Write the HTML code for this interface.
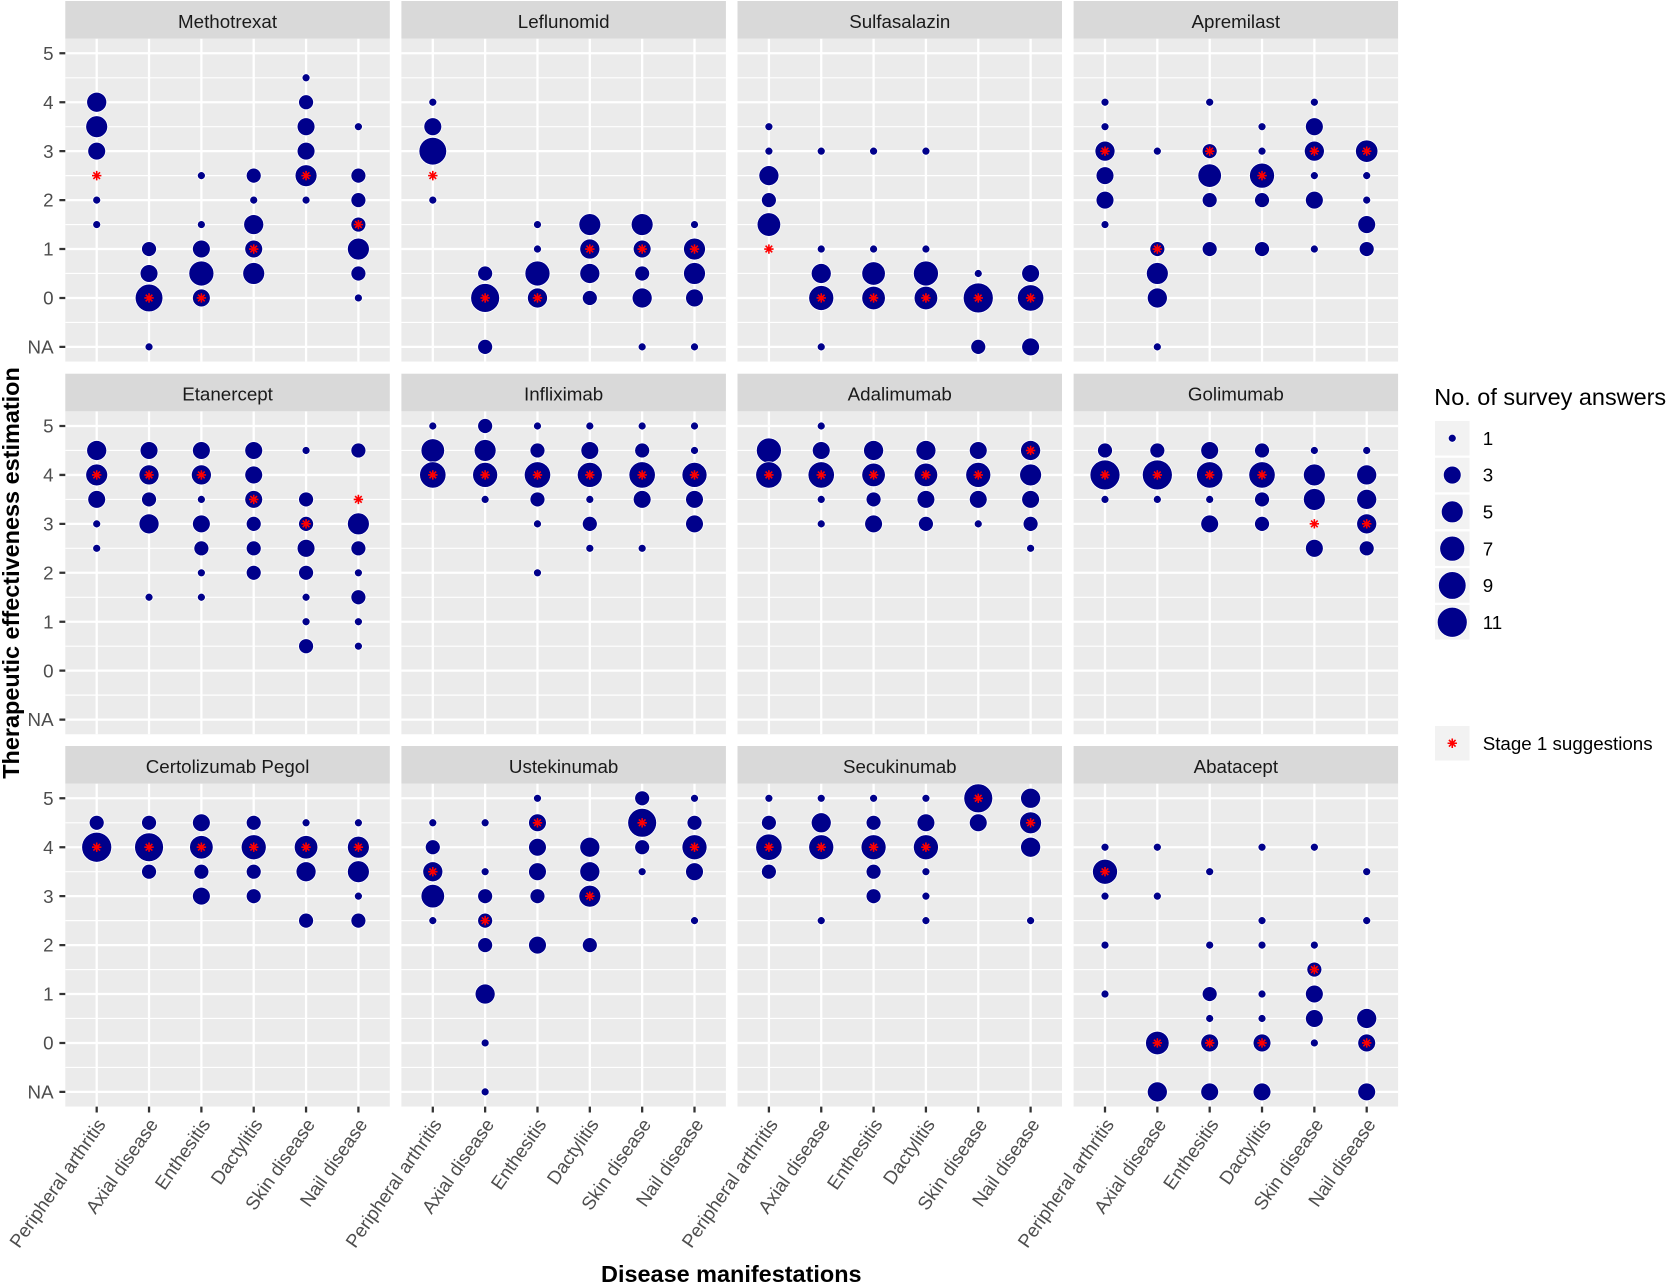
<!DOCTYPE html>
<html><head><meta charset="utf-8">
<style>
html,body{margin:0;padding:0;background:#fff;}
svg{display:block;}
text{font-family:"Liberation Sans",Arial,sans-serif;}
.st{font-size:18.76px;fill:#1A1A1A;text-anchor:middle;}
.yt{font-size:18.76px;fill:#4D4D4D;text-anchor:end;}
.xt{font-size:18.76px;fill:#4D4D4D;text-anchor:end;}
.lt{font-size:18.76px;fill:#000;}
</style></head><body>
<svg width="1667" height="1284" viewBox="0 0 1667 1284" xmlns="http://www.w3.org/2000/svg">
<defs>
<g id="pg">
<rect x="0" y="-14.7" width="324.5" height="322.98" fill="#EBEBEB"/>
<path d="M0 24.47H324.5M0 73.4H324.5M0 122.33H324.5M0 171.26H324.5M0 220.19H324.5M0 269.12H324.5" stroke="#fff" stroke-width="1.14" fill="none"/>
<path d="M0 0H324.5M0 48.93H324.5M0 97.86H324.5M0 146.79H324.5M0 195.72H324.5M0 244.65H324.5M0 293.58H324.5M31.4 -14.7V308.28M83.74 -14.7V308.28M136.08 -14.7V308.28M188.42 -14.7V308.28M240.76 -14.7V308.28M293.1 -14.7V308.28" stroke="#fff" stroke-width="2.27" fill="none"/>
</g>
<path id="s" d="M-4.7 0H4.7M0 -4.7V4.7M-3.32 -3.32L3.32 3.32M-3.32 3.32L3.32 -3.32" stroke="#FF0000" stroke-width="1.6" fill="none"/>
</defs>

<!-- panels -->
<use href="#pg" x="65.3" y="53.3"/><use href="#pg" x="401.4" y="53.3"/><use href="#pg" x="737.5" y="53.3"/><use href="#pg" x="1073.6" y="53.3"/>
<use href="#pg" x="65.3" y="426"/><use href="#pg" x="401.4" y="426"/><use href="#pg" x="737.5" y="426"/><use href="#pg" x="1073.6" y="426"/>
<use href="#pg" x="65.3" y="798.3"/><use href="#pg" x="401.4" y="798.3"/><use href="#pg" x="737.5" y="798.3"/><use href="#pg" x="1073.6" y="798.3"/>

<!-- strips -->
<g fill="#D9D9D9">
<rect x="65.3" y="1" width="324.5" height="37.6"/><rect x="401.4" y="1" width="324.5" height="37.6"/><rect x="737.5" y="1" width="324.5" height="37.6"/><rect x="1073.6" y="1" width="324.5" height="37.6"/>
<rect x="65.3" y="373.7" width="324.5" height="37.6"/><rect x="401.4" y="373.7" width="324.5" height="37.6"/><rect x="737.5" y="373.7" width="324.5" height="37.6"/><rect x="1073.6" y="373.7" width="324.5" height="37.6"/>
<rect x="65.3" y="746" width="324.5" height="37.6"/><rect x="401.4" y="746" width="324.5" height="37.6"/><rect x="737.5" y="746" width="324.5" height="37.6"/><rect x="1073.6" y="746" width="324.5" height="37.6"/>
</g>
<text class="st" x="227.55" y="27.8">Methotrexat</text>
<text class="st" x="563.65" y="27.8">Leflunomid</text>
<text class="st" x="899.75" y="27.8">Sulfasalazin</text>
<text class="st" x="1235.85" y="27.8">Apremilast</text>
<text class="st" x="227.55" y="400.5">Etanercept</text>
<text class="st" x="563.65" y="400.5">Infliximab</text>
<text class="st" x="899.75" y="400.5">Adalimumab</text>
<text class="st" x="1235.85" y="400.5">Golimumab</text>
<text class="st" x="227.55" y="772.8">Certolizumab Pegol</text>
<text class="st" x="563.65" y="772.8">Ustekinumab</text>
<text class="st" x="899.75" y="772.8">Secukinumab</text>
<text class="st" x="1235.85" y="772.8">Abatacept</text>

<!-- axis ticks -->
<g stroke="#333333" stroke-width="2.27">
<path d="M59.4 53.3H65.3M59.4 102.23H65.3M59.4 151.16H65.3M59.4 200.09H65.3M59.4 249.02H65.3M59.4 297.95H65.3M59.4 346.88H65.3"/>
<path d="M59.4 426H65.3M59.4 474.93H65.3M59.4 523.86H65.3M59.4 572.79H65.3M59.4 621.72H65.3M59.4 670.65H65.3M59.4 719.58H65.3"/>
<path d="M59.4 798.3H65.3M59.4 847.23H65.3M59.4 896.16H65.3M59.4 945.09H65.3M59.4 994.02H65.3M59.4 1042.95H65.3M59.4 1091.88H65.3"/>
<path d="M96.7 1106.6V1112.5M149.04 1106.6V1112.5M201.38 1106.6V1112.5M253.72 1106.6V1112.5M306.06 1106.6V1112.5M358.4 1106.6V1112.5M432.8 1106.6V1112.5M485.14 1106.6V1112.5M537.48 1106.6V1112.5M589.82 1106.6V1112.5M642.16 1106.6V1112.5M694.5 1106.6V1112.5M768.9 1106.6V1112.5M821.24 1106.6V1112.5M873.58 1106.6V1112.5M925.92 1106.6V1112.5M978.26 1106.6V1112.5M1030.6 1106.6V1112.5M1105 1106.6V1112.5M1157.34 1106.6V1112.5M1209.68 1106.6V1112.5M1262.02 1106.6V1112.5M1314.36 1106.6V1112.5M1366.7 1106.6V1112.5"/>
</g>
<g class="yt">
<text class="yt" x="53.6" y="59.9">5</text><text class="yt" x="53.6" y="108.83">4</text><text class="yt" x="53.6" y="157.76">3</text><text class="yt" x="53.6" y="206.69">2</text><text class="yt" x="53.6" y="255.62">1</text><text class="yt" x="53.6" y="304.55">0</text><text class="yt" x="53.6" y="353.48">NA</text>
<text class="yt" x="53.6" y="432.6">5</text><text class="yt" x="53.6" y="481.53">4</text><text class="yt" x="53.6" y="530.46">3</text><text class="yt" x="53.6" y="579.39">2</text><text class="yt" x="53.6" y="628.32">1</text><text class="yt" x="53.6" y="677.25">0</text><text class="yt" x="53.6" y="726.18">NA</text>
<text class="yt" x="53.6" y="804.9">5</text><text class="yt" x="53.6" y="853.83">4</text><text class="yt" x="53.6" y="902.76">3</text><text class="yt" x="53.6" y="951.69">2</text><text class="yt" x="53.6" y="1000.62">1</text><text class="yt" x="53.6" y="1049.55">0</text><text class="yt" x="53.6" y="1098.48">NA</text>
</g>

<!-- x tick labels -->
<text class="xt" transform="translate(106.4,1124.5) rotate(-55)">Peripheral arthritis</text>
<text class="xt" transform="translate(158.74,1124.5) rotate(-55)">Axial disease</text>
<text class="xt" transform="translate(211.08,1124.5) rotate(-55)">Enthesitis</text>
<text class="xt" transform="translate(263.42,1124.5) rotate(-55)">Dactylitis</text>
<text class="xt" transform="translate(315.76,1124.5) rotate(-55)">Skin disease</text>
<text class="xt" transform="translate(368.1,1124.5) rotate(-55)">Nail disease</text>
<text class="xt" transform="translate(442.5,1124.5) rotate(-55)">Peripheral arthritis</text>
<text class="xt" transform="translate(494.84,1124.5) rotate(-55)">Axial disease</text>
<text class="xt" transform="translate(547.18,1124.5) rotate(-55)">Enthesitis</text>
<text class="xt" transform="translate(599.52,1124.5) rotate(-55)">Dactylitis</text>
<text class="xt" transform="translate(651.86,1124.5) rotate(-55)">Skin disease</text>
<text class="xt" transform="translate(704.2,1124.5) rotate(-55)">Nail disease</text>
<text class="xt" transform="translate(778.6,1124.5) rotate(-55)">Peripheral arthritis</text>
<text class="xt" transform="translate(830.94,1124.5) rotate(-55)">Axial disease</text>
<text class="xt" transform="translate(883.28,1124.5) rotate(-55)">Enthesitis</text>
<text class="xt" transform="translate(935.62,1124.5) rotate(-55)">Dactylitis</text>
<text class="xt" transform="translate(987.96,1124.5) rotate(-55)">Skin disease</text>
<text class="xt" transform="translate(1040.3,1124.5) rotate(-55)">Nail disease</text>
<text class="xt" transform="translate(1114.7,1124.5) rotate(-55)">Peripheral arthritis</text>
<text class="xt" transform="translate(1167.04,1124.5) rotate(-55)">Axial disease</text>
<text class="xt" transform="translate(1219.38,1124.5) rotate(-55)">Enthesitis</text>
<text class="xt" transform="translate(1271.72,1124.5) rotate(-55)">Dactylitis</text>
<text class="xt" transform="translate(1324.06,1124.5) rotate(-55)">Skin disease</text>
<text class="xt" transform="translate(1376.4,1124.5) rotate(-55)">Nail disease</text>

<!-- axis titles -->
<text x="731.3" y="1282" text-anchor="middle" font-weight="bold" font-size="23.45" fill="#000">Disease manifestations</text>
<text transform="translate(19,573) rotate(-90)" text-anchor="middle" font-weight="bold" font-size="23.45" fill="#000">Therapeutic effectiveness estimation</text>

<!-- data points -->
<g fill="#00008B" stroke="#fff" stroke-width="0.8">
<!-- Methotrexat -->
<g transform="translate(96.7,53.3)"><circle cy="48.93" r="10.02"/><circle cy="73.4" r="10.96"/><circle cy="97.86" r="8.92"/><circle cy="146.79" r="4"/><circle cy="171.26" r="4"/><use href="#s" y="122.33"/></g>
<g transform="translate(149.04,53.3)"><circle cy="195.72" r="7.48"/><circle cy="220.19" r="8.92"/><circle cy="244.65" r="13.84"/><circle cy="293.58" r="4"/><use href="#s" y="244.65"/></g>
<g transform="translate(201.38,53.3)"><circle cy="122.33" r="4"/><circle cy="171.26" r="4"/><circle cy="195.72" r="8.92"/><circle cy="220.19" r="12.52"/><circle cy="244.65" r="8.92"/><use href="#s" y="244.65"/></g>
<g transform="translate(253.72,53.3)"><circle cy="122.33" r="7.48"/><circle cy="146.79" r="4"/><circle cy="171.26" r="10.02"/><circle cy="195.72" r="8.92"/><circle cy="220.19" r="10.96"/><use href="#s" y="195.72"/></g>
<g transform="translate(306.06,53.3)"><circle cy="24.47" r="4"/><circle cy="48.93" r="7.48"/><circle cy="73.4" r="8.92"/><circle cy="97.86" r="8.92"/><circle cy="122.33" r="10.96"/><circle cy="146.79" r="4"/><use href="#s" y="122.33"/></g>
<g transform="translate(358.4,53.3)"><circle cy="73.4" r="4"/><circle cy="122.33" r="7.48"/><circle cy="146.79" r="7.48"/><circle cy="171.26" r="7.48"/><circle cy="195.72" r="10.96"/><circle cy="220.19" r="7.48"/><circle cy="244.65" r="4"/><use href="#s" y="171.26"/></g>
<!-- Leflunomid -->
<g transform="translate(432.8,53.3)"><circle cy="48.93" r="4"/><circle cy="73.4" r="8.92"/><circle cy="97.86" r="13.84"/><circle cy="146.79" r="4"/><use href="#s" y="122.33"/></g>
<g transform="translate(485.14,53.3)"><circle cy="220.19" r="7.48"/><circle cy="244.65" r="14.44"/><circle cy="293.58" r="7.48"/><use href="#s" y="244.65"/></g>
<g transform="translate(537.48,53.3)"><circle cy="171.26" r="4"/><circle cy="195.72" r="4"/><circle cy="220.19" r="12.52"/><circle cy="244.65" r="10.02"/><use href="#s" y="244.65"/></g>
<g transform="translate(589.82,53.3)"><circle cy="171.26" r="10.96"/><circle cy="195.72" r="10.02"/><circle cy="220.19" r="10.02"/><circle cy="244.65" r="7.48"/><use href="#s" y="195.72"/></g>
<g transform="translate(642.16,53.3)"><circle cy="171.26" r="10.96"/><circle cy="195.72" r="8.92"/><circle cy="220.19" r="7.48"/><circle cy="244.65" r="10.02"/><circle cy="293.58" r="4"/><use href="#s" y="195.72"/></g>
<g transform="translate(694.5,53.3)"><circle cy="171.26" r="4"/><circle cy="195.72" r="10.96"/><circle cy="220.19" r="10.96"/><circle cy="244.65" r="8.92"/><circle cy="293.58" r="4"/><use href="#s" y="195.72"/></g>
<!-- Sulfasalazin -->
<g transform="translate(768.9,53.3)"><circle cy="73.4" r="4"/><circle cy="97.86" r="4"/><circle cy="122.33" r="10.02"/><circle cy="146.79" r="7.48"/><circle cy="171.26" r="11.78"/><use href="#s" y="195.72"/></g>
<g transform="translate(821.24,53.3)"><circle cy="97.86" r="4"/><circle cy="195.72" r="4"/><circle cy="220.19" r="10.02"/><circle cy="244.65" r="12.52"/><circle cy="293.58" r="4"/><use href="#s" y="244.65"/></g>
<g transform="translate(873.58,53.3)"><circle cy="97.86" r="4"/><circle cy="195.72" r="4"/><circle cy="220.19" r="11.78"/><circle cy="244.65" r="11.78"/><use href="#s" y="244.65"/></g>
<g transform="translate(925.92,53.3)"><circle cy="97.86" r="4"/><circle cy="195.72" r="4"/><circle cy="220.19" r="12.52"/><circle cy="244.65" r="11.78"/><use href="#s" y="244.65"/></g>
<g transform="translate(978.26,53.3)"><circle cy="220.19" r="4"/><circle cy="244.65" r="15"/><circle cy="293.58" r="7.48"/><use href="#s" y="244.65"/></g>
<g transform="translate(1030.6,53.3)"><circle cy="220.19" r="8.92"/><circle cy="244.65" r="13.2"/><circle cy="293.58" r="8.92"/><use href="#s" y="244.65"/></g>
<!-- Apremilast -->
<g transform="translate(1105,53.3)"><circle cy="48.93" r="4"/><circle cy="73.4" r="4"/><circle cy="97.86" r="10.02"/><circle cy="122.33" r="8.92"/><circle cy="146.79" r="8.92"/><circle cy="171.26" r="4"/><use href="#s" y="97.86"/></g>
<g transform="translate(1157.34,53.3)"><circle cy="97.86" r="4"/><circle cy="195.72" r="7.48"/><circle cy="220.19" r="10.96"/><circle cy="244.65" r="10.02"/><circle cy="293.58" r="4"/><use href="#s" y="195.72"/></g>
<g transform="translate(1209.68,53.3)"><circle cy="48.93" r="4"/><circle cy="97.86" r="7.48"/><circle cy="122.33" r="11.78"/><circle cy="146.79" r="7.48"/><circle cy="195.72" r="7.48"/><use href="#s" y="97.86"/></g>
<g transform="translate(1262.02,53.3)"><circle cy="73.4" r="4"/><circle cy="97.86" r="4"/><circle cy="122.33" r="12.52"/><circle cy="146.79" r="7.48"/><circle cy="195.72" r="7.48"/><use href="#s" y="122.33"/></g>
<g transform="translate(1314.36,53.3)"><circle cy="48.93" r="4"/><circle cy="73.4" r="8.92"/><circle cy="97.86" r="10.02"/><circle cy="122.33" r="4"/><circle cy="146.79" r="8.92"/><circle cy="195.72" r="4"/><use href="#s" y="97.86"/></g>
<g transform="translate(1366.7,53.3)"><circle cy="97.86" r="11.2"/><circle cy="122.33" r="4"/><circle cy="146.79" r="4"/><circle cy="171.26" r="8.92"/><circle cy="195.72" r="7.48"/><use href="#s" y="97.86"/></g>

<!-- Etanercept -->
<g transform="translate(96.7,426)"><circle cy="24.47" r="10.02"/><circle cy="48.93" r="10.96"/><circle cy="73.4" r="8.92"/><circle cy="97.86" r="4"/><circle cy="122.33" r="4"/><use href="#s" y="48.93"/></g>
<g transform="translate(149.04,426)"><circle cy="24.47" r="8.92"/><circle cy="48.93" r="10.02"/><circle cy="73.4" r="7.48"/><circle cy="97.86" r="10.02"/><circle cy="171.26" r="4"/><use href="#s" y="48.93"/></g>
<g transform="translate(201.38,426)"><circle cy="24.47" r="8.92"/><circle cy="48.93" r="10.02"/><circle cy="73.4" r="4"/><circle cy="97.86" r="8.92"/><circle cy="122.33" r="7.48"/><circle cy="146.79" r="4"/><circle cy="171.26" r="4"/><use href="#s" y="48.93"/></g>
<g transform="translate(253.72,426)"><circle cy="24.47" r="8.92"/><circle cy="48.93" r="8.92"/><circle cy="73.4" r="8.92"/><circle cy="97.86" r="7.48"/><circle cy="122.33" r="7.48"/><circle cy="146.79" r="7.48"/><use href="#s" y="73.4"/></g>
<g transform="translate(306.06,426)"><circle cy="24.47" r="4"/><circle cy="73.4" r="7.48"/><circle cy="97.86" r="7.48"/><circle cy="122.33" r="8.92"/><circle cy="146.79" r="7.48"/><circle cy="171.26" r="4"/><circle cy="195.72" r="4"/><circle cy="220.19" r="7.48"/><use href="#s" y="97.86"/></g>
<g transform="translate(358.4,426)"><circle cy="24.47" r="7.48"/><circle cy="97.86" r="10.96"/><circle cy="122.33" r="7.48"/><circle cy="146.79" r="4"/><circle cy="171.26" r="7.48"/><circle cy="195.72" r="4"/><circle cy="220.19" r="4"/><use href="#s" y="73.4"/></g>
<!-- Infliximab -->
<g transform="translate(432.8,426)"><circle cy="0" r="4"/><circle cy="24.47" r="11.78"/><circle cy="48.93" r="13.2"/><use href="#s" y="48.93"/></g>
<g transform="translate(485.14,426)"><circle cy="0" r="7.48"/><circle cy="24.47" r="10.96"/><circle cy="48.93" r="12.52"/><circle cy="73.4" r="4"/><use href="#s" y="48.93"/></g>
<g transform="translate(537.48,426)"><circle cy="0" r="4"/><circle cy="24.47" r="7.48"/><circle cy="48.93" r="13.2"/><circle cy="73.4" r="7.48"/><circle cy="97.86" r="4"/><circle cy="146.79" r="4"/><use href="#s" y="48.93"/></g>
<g transform="translate(589.82,426)"><circle cy="0" r="4"/><circle cy="24.47" r="8.92"/><circle cy="48.93" r="12.52"/><circle cy="73.4" r="4"/><circle cy="97.86" r="7.48"/><circle cy="122.33" r="4"/><use href="#s" y="48.93"/></g>
<g transform="translate(642.16,426)"><circle cy="0" r="4"/><circle cy="24.47" r="7.48"/><circle cy="48.93" r="13.2"/><circle cy="73.4" r="8.92"/><circle cy="122.33" r="4"/><use href="#s" y="48.93"/></g>
<g transform="translate(694.5,426)"><circle cy="0" r="4"/><circle cy="24.47" r="4"/><circle cy="48.93" r="12.52"/><circle cy="73.4" r="8.92"/><circle cy="97.86" r="8.92"/><use href="#s" y="48.93"/></g>
<!-- Adalimumab -->
<g transform="translate(768.9,426)"><circle cy="24.47" r="12.52"/><circle cy="48.93" r="13.2"/><use href="#s" y="48.93"/></g>
<g transform="translate(821.24,426)"><circle cy="0" r="4"/><circle cy="24.47" r="8.92"/><circle cy="48.93" r="13.2"/><circle cy="73.4" r="4"/><circle cy="97.86" r="4"/><use href="#s" y="48.93"/></g>
<g transform="translate(873.58,426)"><circle cy="24.47" r="10.02"/><circle cy="48.93" r="11.78"/><circle cy="73.4" r="7.48"/><circle cy="97.86" r="8.92"/><use href="#s" y="48.93"/></g>
<g transform="translate(925.92,426)"><circle cy="24.47" r="10.02"/><circle cy="48.93" r="11.78"/><circle cy="73.4" r="8.92"/><circle cy="97.86" r="7.48"/><use href="#s" y="48.93"/></g>
<g transform="translate(978.26,426)"><circle cy="24.47" r="8.92"/><circle cy="48.93" r="12.52"/><circle cy="73.4" r="8.92"/><circle cy="97.86" r="4"/><use href="#s" y="48.93"/></g>
<g transform="translate(1030.6,426)"><circle cy="24.47" r="10.02"/><circle cy="48.93" r="10.96"/><circle cy="73.4" r="8.92"/><circle cy="97.86" r="7.48"/><circle cy="122.33" r="4"/><use href="#s" y="24.47"/></g>
<!-- Golimumab -->
<g transform="translate(1105,426)"><circle cy="24.47" r="7.48"/><circle cy="48.93" r="15"/><circle cy="73.4" r="4"/><use href="#s" y="48.93"/></g>
<g transform="translate(1157.34,426)"><circle cy="24.47" r="7.48"/><circle cy="48.93" r="15"/><circle cy="73.4" r="4"/><use href="#s" y="48.93"/></g>
<g transform="translate(1209.68,426)"><circle cy="24.47" r="8.92"/><circle cy="48.93" r="13.2"/><circle cy="73.4" r="4"/><circle cy="97.86" r="8.92"/><use href="#s" y="48.93"/></g>
<g transform="translate(1262.02,426)"><circle cy="24.47" r="7.48"/><circle cy="48.93" r="13.2"/><circle cy="73.4" r="7.48"/><circle cy="97.86" r="7.48"/><use href="#s" y="48.93"/></g>
<g transform="translate(1314.36,426)"><circle cy="24.47" r="4"/><circle cy="48.93" r="10.96"/><circle cy="73.4" r="10.96"/><circle cy="122.33" r="8.92"/><use href="#s" y="97.86"/></g>
<g transform="translate(1366.7,426)"><circle cy="24.47" r="4"/><circle cy="48.93" r="10.02"/><circle cy="73.4" r="10.02"/><circle cy="97.86" r="10.02"/><circle cy="122.33" r="7.48"/><use href="#s" y="97.86"/></g>

<!-- Certolizumab Pegol -->
<g transform="translate(96.7,798.3)"><circle cy="24.47" r="7.48"/><circle cy="48.93" r="15"/><use href="#s" y="48.93"/></g>
<g transform="translate(149.04,798.3)"><circle cy="24.47" r="7.48"/><circle cy="48.93" r="14.44"/><circle cy="73.4" r="7.48"/><use href="#s" y="48.93"/></g>
<g transform="translate(201.38,798.3)"><circle cy="24.47" r="8.92"/><circle cy="48.93" r="11.78"/><circle cy="73.4" r="7.48"/><circle cy="97.86" r="8.92"/><use href="#s" y="48.93"/></g>
<g transform="translate(253.72,798.3)"><circle cy="24.47" r="7.48"/><circle cy="48.93" r="12.52"/><circle cy="73.4" r="7.48"/><circle cy="97.86" r="7.48"/><use href="#s" y="48.93"/></g>
<g transform="translate(306.06,798.3)"><circle cy="24.47" r="4"/><circle cy="48.93" r="11.78"/><circle cy="73.4" r="10.02"/><circle cy="122.33" r="7.48"/><use href="#s" y="48.93"/></g>
<g transform="translate(358.4,798.3)"><circle cy="24.47" r="4"/><circle cy="48.93" r="10.96"/><circle cy="73.4" r="10.96"/><circle cy="97.86" r="4"/><circle cy="122.33" r="7.48"/><use href="#s" y="48.93"/></g>
<!-- Ustekinumab -->
<g transform="translate(432.8,798.3)"><circle cy="24.47" r="4"/><circle cy="48.93" r="7.48"/><circle cy="73.4" r="10.02"/><circle cy="97.86" r="11.78"/><circle cy="122.33" r="4"/><use href="#s" y="73.4"/></g>
<g transform="translate(485.14,798.3)"><circle cy="24.47" r="4"/><circle cy="73.4" r="4"/><circle cy="97.86" r="7.48"/><circle cy="122.33" r="7.48"/><circle cy="146.79" r="7.48"/><circle cy="195.72" r="10.02"/><circle cy="244.65" r="4"/><circle cy="293.58" r="4"/><use href="#s" y="122.33"/></g>
<g transform="translate(537.48,798.3)"><circle cy="0" r="4"/><circle cy="24.47" r="8.92"/><circle cy="48.93" r="8.92"/><circle cy="73.4" r="8.92"/><circle cy="97.86" r="7.48"/><circle cy="146.79" r="8.92"/><use href="#s" y="24.47"/></g>
<g transform="translate(589.82,798.3)"><circle cy="48.93" r="10.02"/><circle cy="73.4" r="10.02"/><circle cy="97.86" r="10.96"/><circle cy="146.79" r="7.48"/><use href="#s" y="97.86"/></g>
<g transform="translate(642.16,798.3)"><circle cy="0" r="7.48"/><circle cy="24.47" r="14.44"/><circle cy="48.93" r="7.48"/><circle cy="73.4" r="4"/><use href="#s" y="24.47"/></g>
<g transform="translate(694.5,798.3)"><circle cy="0" r="4"/><circle cy="24.47" r="7.48"/><circle cy="48.93" r="12.52"/><circle cy="73.4" r="8.92"/><circle cy="122.33" r="4"/><use href="#s" y="48.93"/></g>
<!-- Secukinumab -->
<g transform="translate(768.9,798.3)"><circle cy="0" r="4"/><circle cy="24.47" r="7.48"/><circle cy="48.93" r="13.2"/><circle cy="73.4" r="7.48"/><use href="#s" y="48.93"/></g>
<g transform="translate(821.24,798.3)"><circle cy="0" r="4"/><circle cy="24.47" r="10.02"/><circle cy="48.93" r="12.52"/><circle cy="122.33" r="4"/><use href="#s" y="48.93"/></g>
<g transform="translate(873.58,798.3)"><circle cy="0" r="4"/><circle cy="24.47" r="7.48"/><circle cy="48.93" r="12.52"/><circle cy="73.4" r="7.48"/><circle cy="97.86" r="7.48"/><use href="#s" y="48.93"/></g>
<g transform="translate(925.92,798.3)"><circle cy="0" r="4"/><circle cy="24.47" r="8.92"/><circle cy="48.93" r="12.52"/><circle cy="73.4" r="4"/><circle cy="97.86" r="4"/><circle cy="122.33" r="4"/><use href="#s" y="48.93"/></g>
<g transform="translate(978.26,798.3)"><circle cy="24.47" r="8.92"/><circle cy="0" r="14.44"/><use href="#s" y="0"/></g>
<g transform="translate(1030.6,798.3)"><circle cy="0" r="10.02"/><circle cy="24.47" r="10.96"/><circle cy="48.93" r="10.02"/><circle cy="122.33" r="4"/><use href="#s" y="24.47"/></g>
<!-- Abatacept -->
<g transform="translate(1105,798.3)"><circle cy="48.93" r="4"/><circle cy="73.4" r="12.52"/><circle cy="97.86" r="4"/><circle cy="146.79" r="4"/><circle cy="195.72" r="4"/><use href="#s" y="73.4"/></g>
<g transform="translate(1157.34,798.3)"><circle cy="48.93" r="4"/><circle cy="97.86" r="4"/><circle cy="244.65" r="11.78"/><circle cy="293.58" r="10.02"/><use href="#s" y="244.65"/></g>
<g transform="translate(1209.68,798.3)"><circle cy="73.4" r="4"/><circle cy="146.79" r="4"/><circle cy="195.72" r="7.48"/><circle cy="220.19" r="4"/><circle cy="244.65" r="8.92"/><circle cy="293.58" r="8.92"/><use href="#s" y="244.65"/></g>
<g transform="translate(1262.02,798.3)"><circle cy="48.93" r="4"/><circle cy="122.33" r="4"/><circle cy="146.79" r="4"/><circle cy="195.72" r="4"/><circle cy="220.19" r="4"/><circle cy="244.65" r="8.92"/><circle cy="293.58" r="8.92"/><use href="#s" y="244.65"/></g>
<g transform="translate(1314.36,798.3)"><circle cy="48.93" r="4"/><circle cy="146.79" r="4"/><circle cy="171.26" r="7.48"/><circle cy="195.72" r="8.92"/><circle cy="220.19" r="8.92"/><circle cy="244.65" r="4"/><use href="#s" y="171.26"/></g>
<g transform="translate(1366.7,798.3)"><circle cy="73.4" r="4"/><circle cy="122.33" r="4"/><circle cy="220.19" r="10.02"/><circle cy="244.65" r="8.92"/><circle cy="293.58" r="8.92"/><use href="#s" y="244.65"/></g>
</g>

<!-- legend -->
<text x="1434.3" y="405" font-size="23.45" fill="#000">No. of survey answers</text>
<g fill="#F2F2F2">
<rect x="1435" y="421" width="34.5" height="34.5"/>
<rect x="1435" y="457.8" width="34.5" height="34.5"/>
<rect x="1435" y="494.6" width="34.5" height="34.5"/>
<rect x="1435" y="531.4" width="34.5" height="34.5"/>
<rect x="1435" y="568.2" width="34.5" height="34.5"/>
<rect x="1435" y="605" width="34.5" height="34.5"/>
<rect x="1435" y="726" width="34.5" height="34.5"/>
</g>
<g fill="#00008B" stroke="#fff" stroke-width="0.8">
<circle cx="1452.25" cy="438.25" r="4"/>
<circle cx="1452.25" cy="475.05" r="8.92"/>
<circle cx="1452.25" cy="511.85" r="10.96"/>
<circle cx="1452.25" cy="548.65" r="12.52"/>
<circle cx="1452.25" cy="585.45" r="13.84"/>
<circle cx="1452.25" cy="622.25" r="15"/>
</g>
<use href="#s" x="1452.25" y="743.25"/>
<text class="lt" x="1482.7" y="444.85">1</text>
<text class="lt" x="1482.7" y="481.65">3</text>
<text class="lt" x="1482.7" y="518.45">5</text>
<text class="lt" x="1482.7" y="555.25">7</text>
<text class="lt" x="1482.7" y="592.05">9</text>
<text class="lt" x="1482.7" y="628.85">11</text>
<text class="lt" x="1482.7" y="749.85">Stage 1 suggestions</text>
</svg>
</body></html>
